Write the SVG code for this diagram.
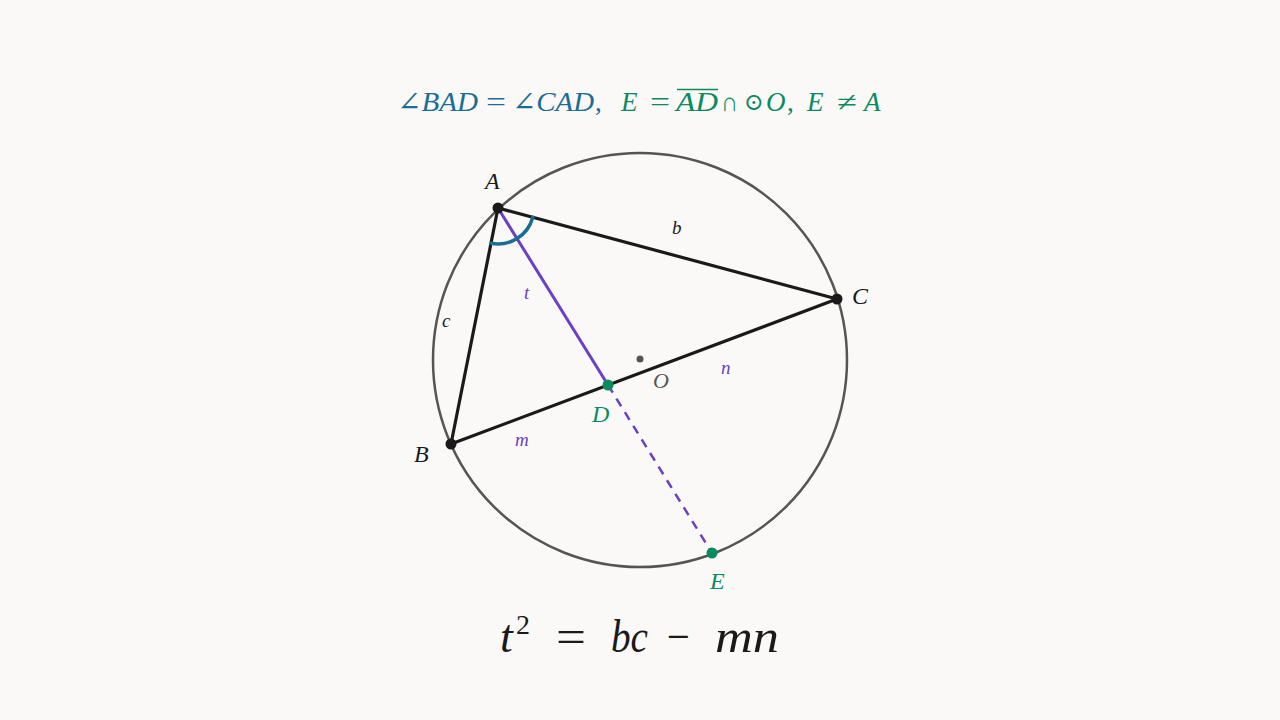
<svg xmlns="http://www.w3.org/2000/svg" width="1280" height="720" viewBox="0 0 1280 720">
<style>
.it{font-family:"Liberation Serif","DejaVu Serif",serif;font-style:italic}
.rm{font-family:"Liberation Serif","DejaVu Serif",serif}
.lbl{font-size:24px}
.sm{font-size:19px}
.blk{fill:#1a1a1a}
.grn{fill:#0a8a5f}
.pur{fill:#6a40c8}
.teal{fill:#1a6e96}
.gry{fill:#555}
</style>
<rect width="1280" height="720" fill="#faf9f7"/>
<g id="title" font-size="27">
<text class="it teal" x="397" y="111" textLength="81" lengthAdjust="spacingAndGlyphs">∠BAD</text>
<text class="rm teal" x="486" y="111" textLength="20" lengthAdjust="spacingAndGlyphs">=</text>
<text class="it teal" x="512" y="111" textLength="82" lengthAdjust="spacingAndGlyphs">∠CAD</text>
<text class="rm teal" x="595" y="111">,</text>
<text class="it grn" x="621" y="111">E</text>
<text class="rm grn" x="650" y="111" textLength="20" lengthAdjust="spacingAndGlyphs">=</text>
<text class="it grn" x="676" y="111" textLength="42" lengthAdjust="spacingAndGlyphs">AD</text>
<text class="rm grn" x="721" y="111" textLength="17" lengthAdjust="spacingAndGlyphs">∩</text>
<text class="rm grn" x="744" y="110" font-size="24">⊙</text>
<text class="it grn" x="766" y="111">O</text>
<text class="rm grn" x="787" y="111">,</text>
<text class="it grn" x="807" y="111">E</text>
<text class="rm grn" x="837" y="111" textLength="20" lengthAdjust="spacingAndGlyphs">≠</text>
<text class="it grn" x="864" y="111">A</text>
<line x1="677" y1="89.5" x2="718" y2="89.5" stroke="#0a8a5f" stroke-width="1.5"/>
</g>
<g id="circle"><circle cx="640" cy="360" r="207" fill="none" stroke="#555" stroke-width="2.5"/></g>
<g id="connectors" fill="none" stroke-linecap="round">
<polygon points="498,208 451,444 837,299" stroke="#1a1a1a" stroke-width="3.2" stroke-linejoin="round"/>
<line x1="498" y1="208" x2="608" y2="385" stroke="#6a40c8" stroke-width="3"/>
<line x1="608" y1="385" x2="712" y2="553" stroke="#6a40c8" stroke-width="2.5" stroke-dasharray="9 7" stroke-linecap="butt"/>
<path d="M 532.8 217.3 A 36 36 0 0 1 491 243.3" stroke="#1a6e96" stroke-width="3.5"/>
</g>
<g id="nodeA"><circle cx="498" cy="208" r="5.5" class="blk"/><text x="485" y="189" class="it lbl blk">A</text></g>
<g id="nodeB"><circle cx="451" cy="444" r="5.5" class="blk"/><text x="414" y="462" class="it lbl blk">B</text></g>
<g id="nodeC"><circle cx="837" cy="299" r="5.5" class="blk"/><text x="852" y="304" class="it lbl blk">C</text></g>
<g id="nodeD"><circle cx="608" cy="385" r="5.5" class="grn"/><text x="592" y="422" class="it lbl grn">D</text></g>
<g id="nodeE"><circle cx="712" cy="553" r="5.5" class="grn"/><text x="710" y="589" class="it lbl grn">E</text></g>
<g id="nodeO"><circle cx="640" cy="359" r="3.5" class="gry"/><text x="653" y="388" class="it gry" font-size="22">O</text></g>
<g id="labels">
<text x="672" y="234" class="it sm blk">b</text>
<text x="442" y="327" class="it sm blk">c</text>
<text x="524" y="299" class="it sm pur">t</text>
<text x="721" y="374" class="it sm pur">n</text>
<text x="515" y="446" class="it sm pur">m</text>
</g>
<g id="formula" font-size="46">
<text class="it blk" x="500" y="652">t</text>
<text class="rm blk" x="516" y="634" font-size="28">2</text>
<text class="rm blk" x="556" y="652" textLength="30" lengthAdjust="spacingAndGlyphs">=</text>
<text class="it blk" x="611" y="652" textLength="37" lengthAdjust="spacingAndGlyphs">bc</text>
<text class="rm blk" x="667" y="652" textLength="23" lengthAdjust="spacingAndGlyphs">−</text>
<text class="it blk" x="715" y="652" textLength="64" lengthAdjust="spacingAndGlyphs">mn</text>
</g>
</svg>
